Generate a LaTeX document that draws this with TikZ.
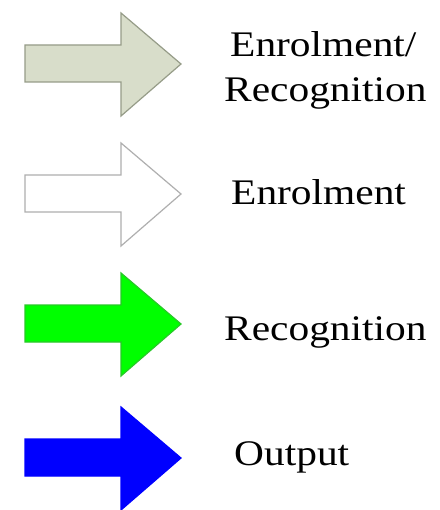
\documentclass[tikz,border=0pt]{standalone}
\usepackage{fontspec}
\setmainfont[FakeStretch=1.15]{Liberation Serif}
\definecolor{sage}{RGB}{216,221,202}
\definecolor{sageline}{RGB}{150,156,136}
\definecolor{greyline}{RGB}{175,175,175}
\definecolor{brightgreen}{RGB}{0,255,0}
\definecolor{greenline}{RGB}{40,200,40}
\definecolor{pureblue}{RGB}{0,0,255}
\tikzset{
  blockarrow/.style={line width=1.2pt, line join=miter},
  lbl/.style={anchor=base west, inner sep=0pt, font=\fontsize{36}{45}\selectfont, text=black}
}
% arrow: #1 = style, #2 = y offset of head top
\newcommand{\myarrow}[2]{%
  \draw[blockarrow,#1] (25,#2+32) -- (121,#2+32) -- (121,#2) -- (181,#2+51) -- (121,#2+103) -- (121,#2+69) -- (25,#2+69) -- cycle;}
\begin{document}
\begin{tikzpicture}[x=1pt,y=-1pt]
\useasboundingbox[fill=white] (0,0) rectangle (439,510);
\myarrow{fill=sage,draw=sageline}{13}
\myarrow{fill=white,draw=greyline}{143}
\myarrow{fill=brightgreen,draw=greenline}{273}
\myarrow{fill=pureblue,draw=pureblue}{407}
\node[lbl] (t1a) at (230,57) {Enrolment/};
\node[lbl] (t1b) at (224,102) {Recognition};
\node[lbl] (t2) at (231,205) {Enrolment};
\node[lbl] (t3) at (224,340) {Recognition};
\node[lbl] (t4) at (234,465) {Output};
\end{tikzpicture}
\end{document}
